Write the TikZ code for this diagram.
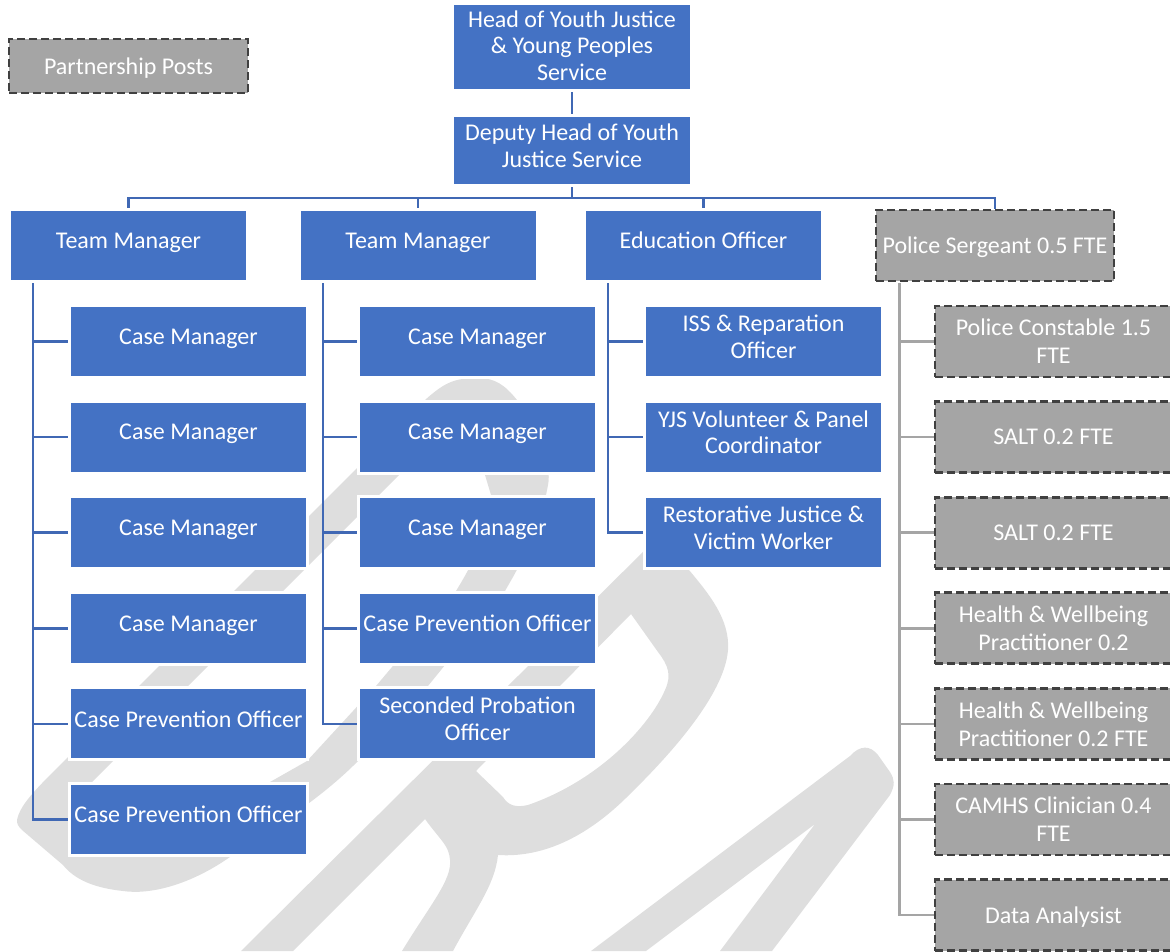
\documentclass[tikz,border=0pt]{standalone}
\usepackage{fontspec}
\setmainfont{Carlito}
\usepackage{tikz}
\definecolor{postblue}{HTML}{4472C4}
\definecolor{linkblue}{HTML}{4068B4}
\definecolor{postgrey}{HTML}{A5A5A5}
\definecolor{dashgrey}{HTML}{404040}
\definecolor{markgrey}{HTML}{DEDEDE}

\begin{document}
\begin{tikzpicture}[x=1pt, y=-1pt, node distance=95.6pt]
\tikzstyle{post}=[draw=white, line width=3pt, fill=postblue, text=white, align=center, minimum width=238pt, minimum height=72pt, inner sep=0pt, text depth=10pt, font=\fontsize{24}{26.5}\selectfont]
\tikzstyle{greypost}=[draw=dashgrey, line width=2.8pt, dash pattern=on 8pt off 4pt, fill=postgrey, text=white, align=center, minimum width=237pt, minimum height=71pt, inner sep=0pt, text depth=-1pt, font=\fontsize{24}{28}\selectfont]
\tikzstyle{link}=[draw=linkblue, line width=2.6pt]
\tikzstyle{greylink}=[draw=postgrey, line width=2.6pt]
\tikzstyle{wmark}=[fill=markgrey, even odd rule]

\useasboundingbox (0,0) rectangle (1170,951);

% watermark
\fill[wmark] (17,820) .. controls (20,805) and (35,790) .. (60,765) -- (425,400) .. controls (445,382) and (455,378) .. (478,378) .. controls (495,378) and (505,385) .. (517,400) .. controls (540,435) and (552,465) .. (548,485) .. controls (540,530) and (520,565) .. (505,591) -- (428,686) -- (359,760) .. controls (320,800) and (270,830) .. (230,857) .. controls (190,885) and (150,895) .. (123,891) .. controls (95,888) and (75,880) .. (63,865) -- (22,830) .. controls (18,826) and (17,824) .. (17,820) -- cycle
 (399,475) -- (92,782) -- (80,800) -- (100,840) -- (140,848) -- (235,812) -- (270,782) -- (307,761) -- (376,686) -- (456,591) .. controls (475,560) and (495,520) .. (491,495) -- (485,475) -- (445,410) -- cycle;
\fill[wmark] (241,951) -- (660,535) -- (689,570) .. controls (710,595) and (730,620) .. (728,650) .. controls (725,690) and (680,745) .. (631,793) .. controls (590,835) and (545,858) .. (498,855) .. controls (495,885) and (475,910) .. (453,951) -- (402,951) .. controls (430,905) and (452,880) .. (450,860) .. controls (449,845) and (440,840) .. (425,819) -- (293,951) -- cycle
 (476,771) -- (631,614) -- (658,652) .. controls (668,665) and (672,675) .. (665,690) .. controls (650,725) and (600,780) .. (528,805) .. controls (515,808) and (508,805) .. (503,797) -- cycle;
\fill[wmark] (591,951) -- (850,756) .. controls (860,745) and (870,745) .. (878,755) -- (890,772) .. controls (895,780) and (895,785) .. (890,795) -- (772,951) -- (720,951) -- (815,824) -- (646,951) -- cycle;

\node[greypost, minimum width=239pt, minimum height=54pt] (partner) at (128.5,66) {Partnership Posts};

\node[post, minimum width=239pt, minimum height=87pt, text depth=3pt] (head) at (572,47) {Head of Youth Justice\\\& Young Peoples\\Service};
\node[post, minimum width=239pt, minimum height=70pt] (deputy) [below of=head, node distance=103.5pt] {Deputy Head of Youth\\Justice Service};

\node[post] (tma) at (128.5,245.5) {Team Manager};
\node[post] (tmb) [right of=tma, node distance=289.5pt] {Team Manager};
\node[post] (edu) [right of=tmb, node distance=285.5pt] {Education Officer};
\node[greypost, minimum width=238pt] (sgt) at (995,245.5) {Police Sergeant 0.5 FTE};

\node[post] (casea1) [below of=tma, xshift=60pt, node distance=96pt] {Case Manager};
\node[post] (casea2) [below of=casea1] {Case Manager};
\node[post] (casea3) [below of=casea2] {Case Manager};
\node[post] (casea4) [below of=casea3] {Case Manager};
\node[post] (casea5) [below of=casea4] {Case Prevention Officer};
\node[post] (casea6) [below of=casea5] {Case Prevention Officer};

\node[post] (caseb1) [below of=tmb, xshift=59.5pt, node distance=96pt] {Case Manager};
\node[post] (caseb2) [below of=caseb1] {Case Manager};
\node[post] (caseb3) [below of=caseb2] {Case Manager};
\node[post] (caseb4) [below of=caseb3] {Case Prevention Officer};
\node[post] (caseb5) [below of=caseb4] {Seconded Probation\\Officer};

\node[post] (iss) [below of=edu, xshift=60pt, node distance=96pt] {ISS \& Reparation\\Officer};
\node[post] (yjs) [below of=iss] {YJS Volunteer \& Panel\\Coordinator};
\node[post] (rj) [below of=yjs] {Restorative Justice \&\\Victim Worker};

\node[greypost] (pc) [below of=sgt, xshift=58.5pt, node distance=96pt] {Police Constable 1.5\\FTE};
\node[greypost] (salta) [below of=pc] {SALT 0.2 FTE};
\node[greypost] (saltb) [below of=salta] {SALT 0.2 FTE};
\node[greypost] (hwa) [below of=saltb] {Health \& Wellbeing\\Practitioner 0.2};
\node[greypost] (hwb) [below of=hwa] {Health \& Wellbeing\\Practitioner 0.2 FTE};
\node[greypost] (camhs) [below of=hwb] {CAMHS Clinician 0.4\\FTE};
\node[greypost] (data) [below of=camhs] {Data Analysist};

\coordinate (bus) at (572,198);
\coordinate (trunka) at (33,283);
\coordinate (trunkb) at (323,283);
\coordinate (trunkc) at (608,283);
\coordinate (trunkd) at (899.5,283);

\draw[link] (head) -- (deputy);
\draw[link] (deputy) -- (bus);
\draw[link] (bus) -| (tma);
\draw[link] (bus) -| (tmb);
\draw[link] (bus) -| (edu);
\draw[link] (bus) -| (sgt);

\draw[link] (trunka) |- (casea6);
\draw[link] (trunka) |- (casea5);
\draw[link] (trunka) |- (casea4);
\draw[link] (trunka) |- (casea3);
\draw[link] (trunka) |- (casea2);
\draw[link] (trunka) |- (casea1);

\draw[link] (trunkb) |- (caseb5);
\draw[link] (trunkb) |- (caseb4);
\draw[link] (trunkb) |- (caseb3);
\draw[link] (trunkb) |- (caseb2);
\draw[link] (trunkb) |- (caseb1);

\draw[link] (trunkc) |- (rj);
\draw[link] (trunkc) |- (yjs);
\draw[link] (trunkc) |- (iss);

\draw[greylink] (trunkd) |- (data);
\draw[greylink] (trunkd) |- (camhs);
\draw[greylink] (trunkd) |- (hwb);
\draw[greylink] (trunkd) |- (hwa);
\draw[greylink] (trunkd) |- (saltb);
\draw[greylink] (trunkd) |- (salta);
\draw[greylink] (trunkd) |- (pc);
\end{tikzpicture}
\end{document}
